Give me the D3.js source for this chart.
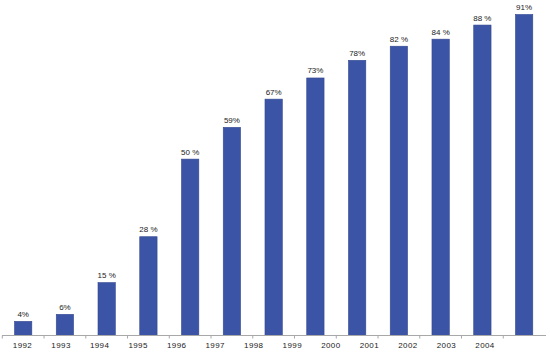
<!DOCTYPE html>
<html>
<head>
<meta charset="utf-8">
<script src="https://cdn.jsdelivr.net/npm/d3@7"></script>
<style>
  body { margin: 0; background: #fff; }
  svg { display: block; font-family: "Liberation Sans", Arial, sans-serif; }
</style>
</head>
<body>
<svg id="chart" width="550" height="355"></svg>
<script>
const years = ["1992", "1993", "1994", "1995", "1996", "1997", "1998",
  "1999", "2000", "2001", "2002", "2003", "2004"];
const values = [4, 6, 15, 28, 50, 59, 67, 73, 78, 82, 84, 88, 91];
const valueLabels = ["4%", "6%", "15 %", "28 %", "50 %", "59%", "67%",
  "73%", "78%", "82 %", "84 %", "88 %", "91%"];

const svg = d3.select("#chart");
const baseY = 335.5;

// one band per bar (the last bar has no year label in the original)
const x = d3.scaleBand()
  .domain(d3.range(values.length))
  .range([2.3, 545])
  .paddingInner(0.585)
  .paddingOuter(0.2925);

const y = d3.scaleLinear().domain([0, 95.1]).range([baseY, 0]);

// year labels drift left of the bars in the original, so they get their own scale
const xLabel = d3.scalePoint().domain(years).range([22.5, 485]);

svg.selectAll(".bar")
  .data(values)
  .enter()
  .append("rect")
  .attr("class", "bar")
  .attr("x", (d, i) => x(i))
  .attr("width", x.bandwidth())
  .attr("y", (d) => y(d))
  .attr("height", (d) => baseY - y(d))
  .attr("fill", "#3b54a6")
  .attr("stroke", "#34488f")
  .attr("stroke-width", 0.6);

svg.selectAll(".val")
  .data(values)
  .enter()
  .append("text")
  .attr("class", "val")
  .attr("x", (d, i) => x(i) + x.bandwidth() / 2)
  .attr("y", (d) => y(d) - 4.5)
  .attr("text-anchor", "middle")
  .attr("font-size", 8)
  .attr("fill", "#222")
  .text((d, i) => valueLabels[i]);

// axis line with small ticks at the band boundaries
const gap = x.step() - x.bandwidth();
const tickPos = d3.range(values.length).map((i) => x(i) - gap / 2);

const axis = svg.append("g").attr("class", "axis");
axis.append("line")
  .attr("x1", 2).attr("x2", 546)
  .attr("y1", baseY).attr("y2", baseY)
  .attr("stroke", "#a8a8a8");
axis.selectAll(".tick")
  .data(tickPos)
  .enter()
  .append("line")
  .attr("class", "tick")
  .attr("x1", (d) => d).attr("x2", (d) => d)
  .attr("y1", baseY).attr("y2", baseY + 3)
  .attr("stroke", "#a8a8a8");

svg.append("g")
  .selectAll("text")
  .data(years)
  .enter()
  .append("text")
  .attr("x", (d) => xLabel(d))
  .attr("y", 348)
  .attr("text-anchor", "middle")
  .attr("font-size", 8)
  .attr("letter-spacing", 0.4)
  .attr("fill", "#222")
  .text((d) => d);
</script>
</body>
</html>
